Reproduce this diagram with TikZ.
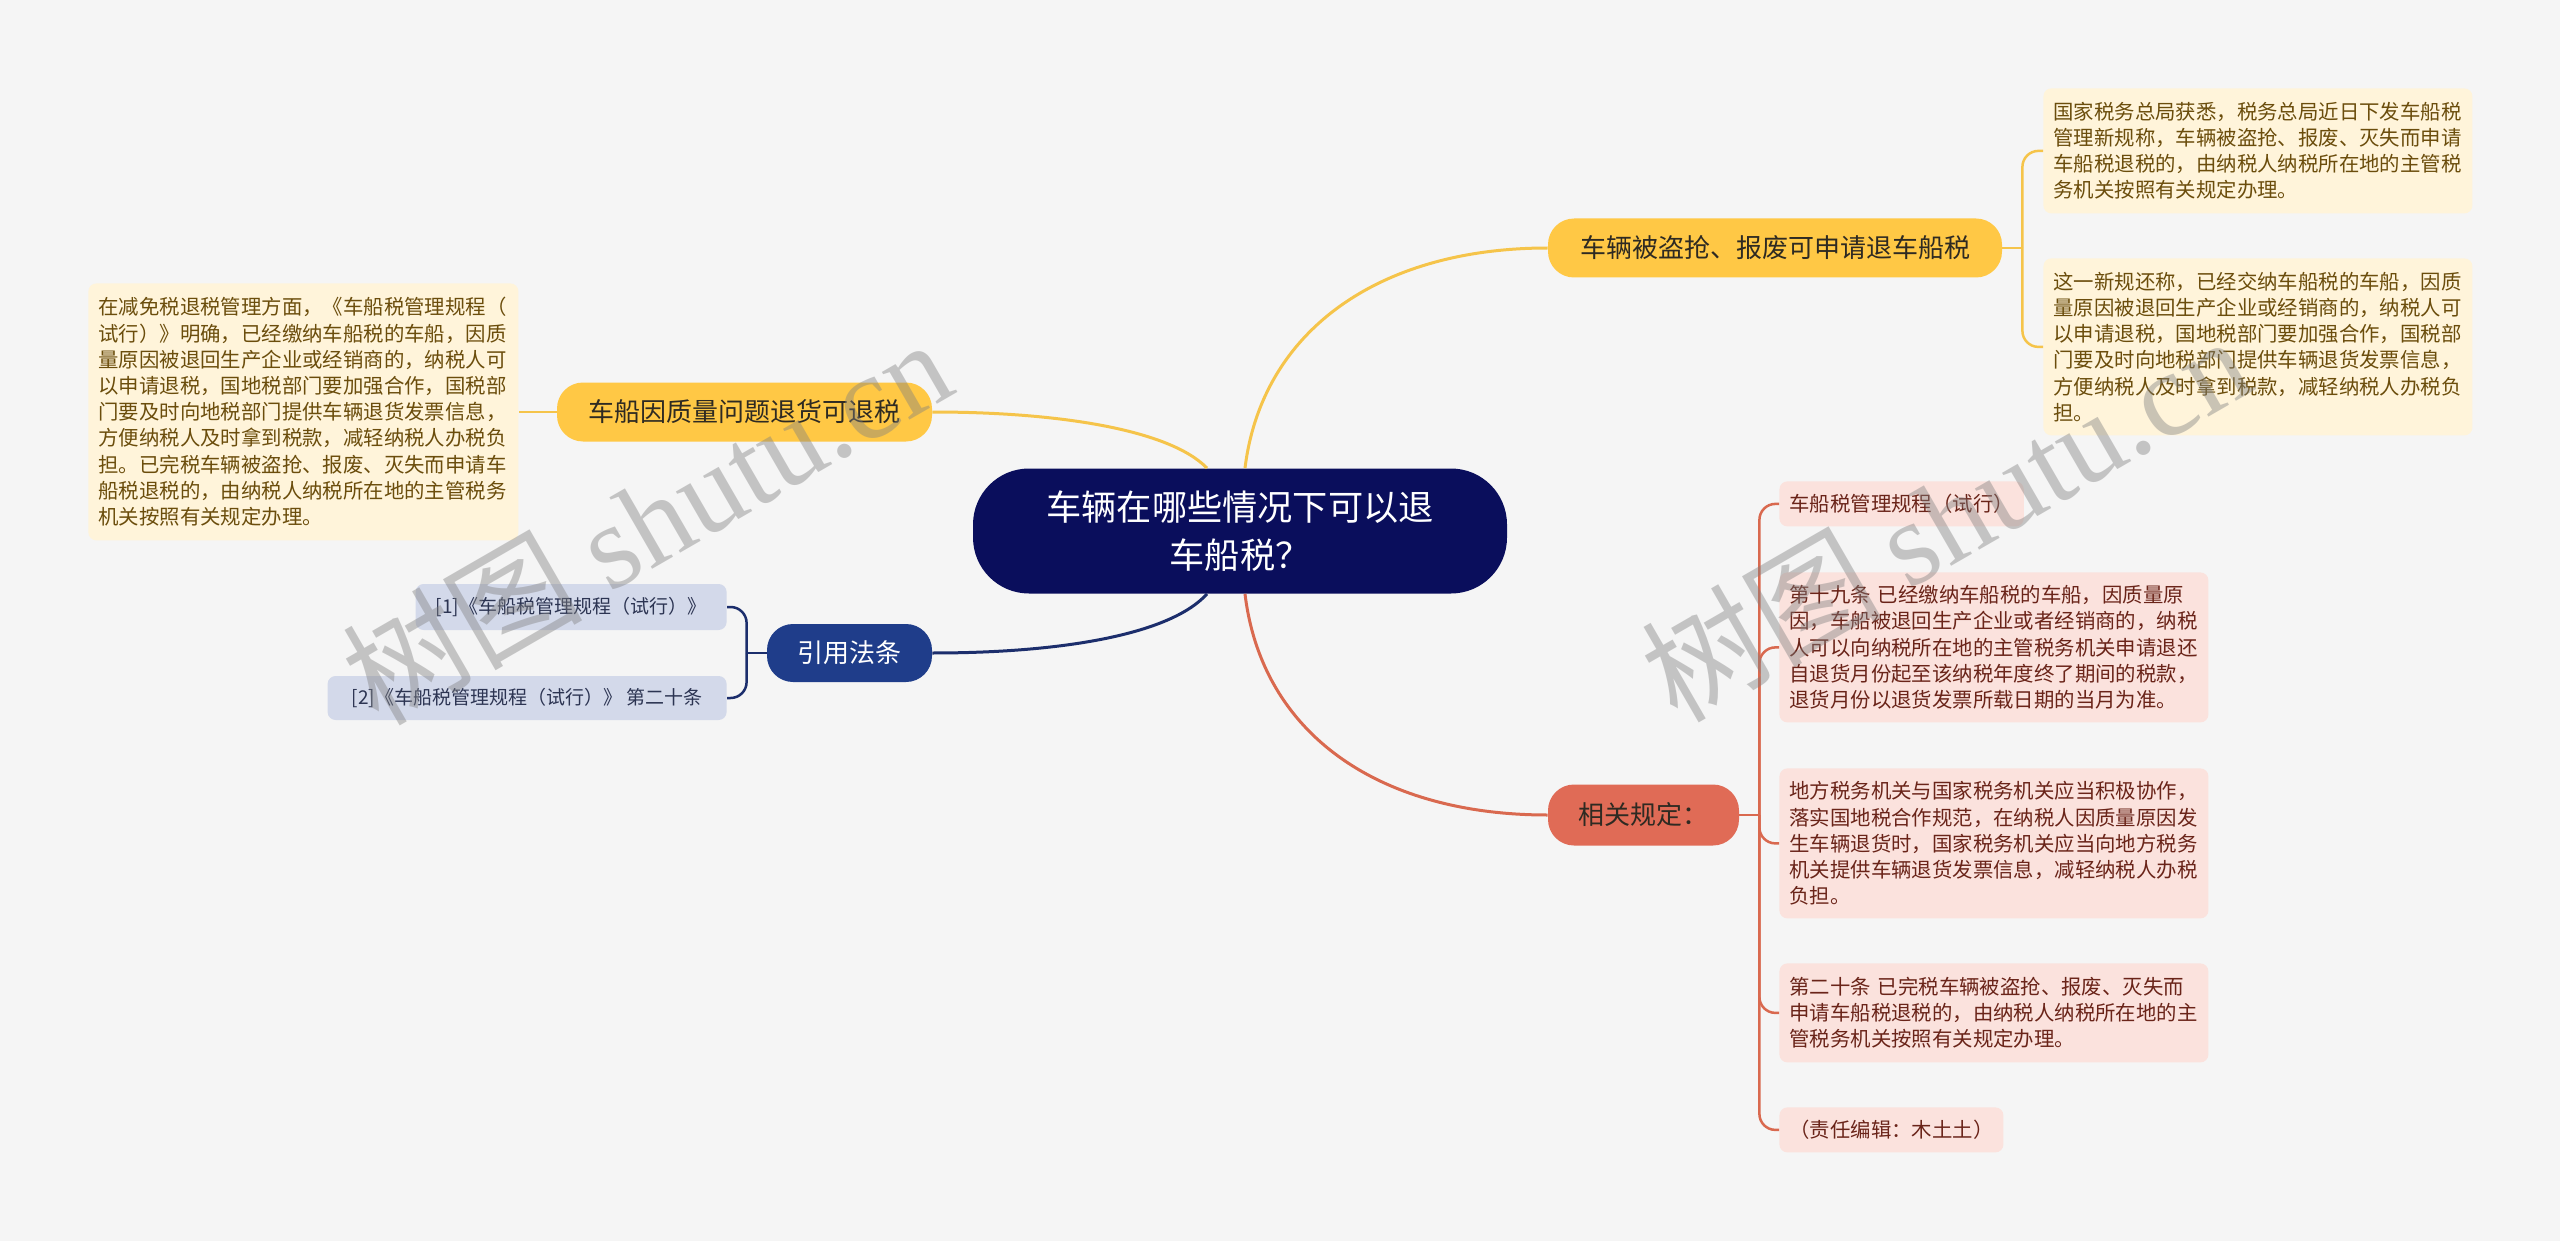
\documentclass[tikz,border=0pt]{standalone}
\usepackage{fontspec}
\setmainfont{Noto Sans CJK SC}
\newfontfamily\wmfont{Liberation Serif}
\usetikzlibrary{calc}
\definecolor{bg}{HTML}{F5F5F5}
\definecolor{navy}{HTML}{0A0E5C}
\definecolor{ynode}{HTML}{FFC845}
\definecolor{ybox}{HTML}{FFF4DA}
\definecolor{ytext}{HTML}{6B4D0C}
\definecolor{yline}{HTML}{F5C44A}
\definecolor{bnode}{HTML}{1F3D8A}
\definecolor{bline}{HTML}{1C2E6C}
\definecolor{cbox}{HTML}{D3D9EA}
\definecolor{ctext}{HTML}{2C3452}
\definecolor{rnode}{HTML}{E06B56}
\definecolor{rline}{HTML}{D9694F}
\definecolor{pbox}{HTML}{FBE2DD}
\definecolor{ptext}{HTML}{6A2419}
\definecolor{ttext}{HTML}{2E2A22}
\tikzset{
  central/.style={fill=navy, text=white, rounded corners=28pt, minimum width=267pt,
    minimum height=62.5pt, align=center, inner sep=0pt,
    font=\fontsize{17.6pt}{24pt}\selectfont},
  topic/.style={rounded corners=13pt, inner sep=0pt, minimum height=29.5pt,
    font=\fontsize{13pt}{16pt}\selectfont},
  infobox/.style={rounded corners=4pt, inner xsep=5pt, inner ysep=0pt, align=left,
    anchor=north west, font=\fontsize{10.2pt}{13.1pt}\selectfont},
  ybx/.style={infobox, fill=ybox, text=ytext},
  pbx/.style={infobox, fill=pbox, text=ptext},
  cbx/.style={rounded corners=4pt, inner sep=0pt, fill=cbox, text=ctext, anchor=east,
    font=\fontsize{9.5pt}{12pt}\selectfont},
  mainline/.style={line width=1.5pt},
  brk/.style={line width=1.25pt, rounded corners=8pt},
  wmark/.style={rotate=30, text=gray, opacity=0.42, font=\fontsize{60pt}{60pt}\selectfont}
}
\begin{document}
\begin{tikzpicture}[x=0.5pt,y=-0.5pt]
\fill[bg] (0,0) rectangle (2560,1241);
\useasboundingbox (0,0) rectangle (2560,1241);

% central
\node[central] (c) at (1240,531) {车辆在哪些情况下可以退\\车船税？};

% topics
\node[topic, fill=ynode, text=ttext, minimum width=227pt] (tr) at (1775,248) {车辆被盗抢、报废可申请退车船税};
\node[topic, fill=ynode, text=ttext, minimum width=187.5pt] (lq) at (744.5,412) {车船因质量问题退货可退税};
\node[topic, fill=bnode, text=white, minimum width=82.5pt, minimum height=29pt] (ref) at (849.5,653) {引用法条};
\node[topic, fill=rnode, text=ttext, minimum width=95.5pt, minimum height=30.5pt] (rel) at (1643.5,815) {相关规定：};

% yellow boxes right
\node[ybx, text width=204.5pt, minimum width=214.5pt, minimum height=62.5pt] (r1) at (2043,88)
 {国家税务总局获悉，税务总局近日下发车船税\\管理新规称，车辆被盗抢、报废、灭失而申请\\车船税退税的，由纳税人纳税所在地的主管税\\务机关按照有关规定办理。};
\node[ybx, text width=204.5pt, minimum width=214.5pt, minimum height=88.5pt] (r2) at (2043,258)
 {这一新规还称，已经交纳车船税的车船，因质\\量原因被退回生产企业或经销商的，纳税人可\\以申请退税，国地税部门要加强合作，国税部\\门要及时向地税部门提供车辆退货发票信息，\\方便纳税人及时拿到税款，减轻纳税人办税负\\担。};

% yellow box left
\node[ybx, text width=205pt, minimum width=215pt, minimum height=128.5pt] (lb) at (88,283)
 {在减免税退税管理方面，《车船税管理规程（\\试行）》明确，已经缴纳车船税的车船，因质\\量原因被退回生产企业或经销商的，纳税人可\\以申请退税，国地税部门要加强合作，国税部\\门要及时向地税部门提供车辆退货发票信息，\\方便纳税人及时拿到税款，减轻纳税人办税负\\担。已完税车辆被盗抢、报废、灭失而申请车\\船税退税的，由纳税人纳税所在地的主管税务\\机关按照有关规定办理。};

% citation boxes
\node[cbx, minimum width=155.5pt, minimum height=23pt] (c1) at (727,607) {[1]《车船税管理规程（试行）》};
\node[cbx, minimum width=199.5pt, minimum height=22pt] (c2) at (727,698) {[2]《车船税管理规程（试行）》 第二十条};

% pink boxes
\node[pbx, minimum width=122pt, minimum height=22.5pt] (p1) at (1779,481) {车船税管理规程（试行）};
\node[pbx, text width=204.5pt, minimum width=214.5pt, minimum height=75pt] (p2) at (1779,572)
 {第十九条 已经缴纳车船税的车船，因质量原\\因，车船被退回生产企业或者经销商的，纳税\\人可以向纳税所在地的主管税务机关申请退还\\自退货月份起至该纳税年度终了期间的税款，\\退货月份以退货发票所载日期的当月为准。};
\node[pbx, text width=204.5pt, minimum width=214.5pt, minimum height=75pt] (p3) at (1779,768)
 {地方税务机关与国家税务机关应当积极协作，\\落实国地税合作规范，在纳税人因质量原因发\\生车辆退货时，国家税务机关应当向地方税务\\机关提供车辆退货发票信息，减轻纳税人办税\\负担。};
\node[pbx, text width=204.5pt, minimum width=214.5pt, minimum height=49.5pt] (p4) at (1779,963)
 {第二十条 已完税车辆被盗抢、报废、灭失而\\申请车船税退税的，由纳税人纳税所在地的主\\管税务机关按照有关规定办理。};
\node[pbx, minimum width=112pt, minimum height=22.5pt] (p5) at (1779,1107) {（责任编辑：木土土）};

% main connectors
\draw[yline, mainline] ($(c.north)+(5,0)$) .. controls (1262,330) and (1380,248) .. (tr.west);
\draw[yline, mainline] ($(c.north)+(-33,0)$) .. controls (1170,430) and (1060,412) .. (lq.east);
\draw[bline, mainline] ($(c.south)+(-33,0)$) .. controls (1170,635) and (1060,653) .. (ref.east);
\draw[rline, mainline] ($(c.south)+(5,0)$) .. controls (1262,735) and (1380,815) .. (rel.west);

% left yellow link
\draw[yline, line width=1.25pt] (lq.west) -- (lb.east |- lq.west);

% brackets
\draw[yline, line width=1.25pt] (tr.east) -- ++(20,0) coordinate (jy);
\draw[yline, brk] (jy) |- (r1.west);
\draw[yline, brk] (jy) |- (r2.west);

\draw[bline, line width=1.25pt] (ref.west) -- ++(-20,0) coordinate (jb);
\draw[bline, brk] (jb) |- (c1.east);
\draw[bline, brk] (jb) |- (c2.east);

\draw[rline, line width=1.25pt] (rel.east) -- ++(20,0) coordinate (jr);
\draw[rline, brk] (jr) |- (p1.west);
\draw[rline, brk] (jr) |- (p2.west);
\draw[rline, brk] (jr) |- (p3.west);
\draw[rline, brk] (jr) |- (p4.west);
\draw[rline, brk] (jr) |- (p5.west);

% watermarks
\node[wmark] (wm1) at (646,520) {树图 {\wmfont shutu.cn}};
\node[wmark] (wm2) at (1945,517) {树图 {\wmfont shutu.cn}};
\end{tikzpicture}
\end{document}
